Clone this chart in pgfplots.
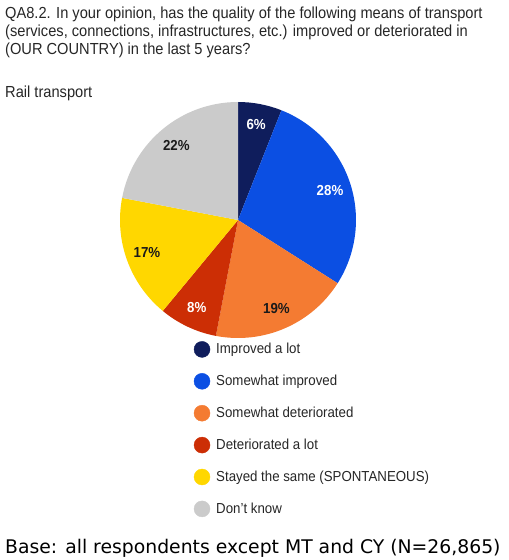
\documentclass[border=0pt]{standalone}
\usepackage{fontspec}
\setmainfont[FakeStretch=0.915]{Liberation Sans}
\newfontfamily\footfont{DejaVu Sans}
\usepackage{pgfplots}
\usepackage{pgfplotstable}
\pgfplotsset{compat=1.18}
\definecolor{c0}{HTML}{0F1D5C}
\definecolor{c1}{HTML}{0B4FE3}
\definecolor{c2}{HTML}{F47B32}
\definecolor{c3}{HTML}{CC2E05}
\definecolor{c4}{HTML}{FFD700}
\definecolor{c5}{HTML}{CBCBCB}
\definecolor{l0}{HTML}{FFFFFF}
\definecolor{l1}{HTML}{FFFFFF}
\definecolor{l2}{HTML}{1A1A1A}
\definecolor{l3}{HTML}{FFFFFF}
\definecolor{l4}{HTML}{1A1A1A}
\definecolor{l5}{HTML}{1A1A1A}
\definecolor{txt}{HTML}{262626}
\pgfplotstableread{
value
6
28
19
8
17
22
}\piedata
\newcommand\dotleg[1]{\addlegendimage{legend image code/.code={\fill[#1] (8pt,0pt) circle (8pt);}}}
\begin{document}
\begin{tikzpicture}[x=1pt,y=1pt]
\path (0,0) rectangle (509,560);
\begin{scope}[every node/.style={anchor=base west, inner sep=0pt, text=txt, font=\fontsize{16}{19}\selectfont}]
\node at (5,541.7) {QA8.2. In your opinion, has the quality of the following means of transport};
\node at (5,523.3) {(services, connections, infrastructures, etc.) improved or deteriorated in};
\node at (5,505) {(OUR COUNTRY) in the last 5 years?};
\node at (5,462.5) {Rail transport};
\end{scope}
\begin{axis}[at={(238pt,340pt)}, anchor=origin, width=236pt, height=236pt, scale only axis,
  hide axis, xmin=-1, xmax=1, ymin=-1, ymax=1,
  legend style={at={(0.312,-0.0127)}, anchor=north west, draw=none, fill=none,
    font=\fontsize{14.5}{17}\selectfont, text=txt, row sep=15.5pt, column sep=4pt, inner sep=0pt,
    cells={anchor=west}}]
\pgfplotsextra{
  \gdef\cum{0}
  \pgfplotstableforeachcolumnelement{value}\of\piedata\as\v{%
    \pgfmathsetmacro\a{90-3.6*\cum}%
    \pgfmathsetmacro\b{90-3.6*(\cum+\v)}%
    \pgfmathsetmacro\m{(\a+\b)/2}%
    \pgfmathsetmacro\sx{cos(\a)}%
    \pgfmathsetmacro\sy{sin(\a)}%
    \pgfmathsetmacro\lx{0.82*cos(\m)}%
    \pgfmathsetmacro\ly{0.82*sin(\m)}%
    \fill[c\pgfplotstablerow] (axis cs:0,0) -- (axis cs:\sx,\sy) arc[start angle=\a, end angle=\b, radius=118pt] -- cycle;
    \node[text=l\pgfplotstablerow, font=\bfseries\fontsize{14.5}{17}\selectfont] at (axis cs:\lx,\ly) {\v\%};
    \pgfmathsetmacro\newcum{\cum+\v}\global\let\cum\newcum
  }
}
\dotleg{c0}\addlegendentry{Improved a lot}
\dotleg{c1}\addlegendentry{Somewhat improved}
\dotleg{c2}\addlegendentry{Somewhat deteriorated}
\dotleg{c3}\addlegendentry{Deteriorated a lot}
\dotleg{c4}\addlegendentry{Stayed the same (SPONTANEOUS)}
\dotleg{c5}\addlegendentry{Don\char"27 t know}
\end{axis}
\node[anchor=base west, inner sep=0pt, font=\footfont\fontsize{18.8}{22}\selectfont] at (5,6.7) {Base: all respondents except MT and CY (N=26,865)};
\end{tikzpicture}
\end{document}
